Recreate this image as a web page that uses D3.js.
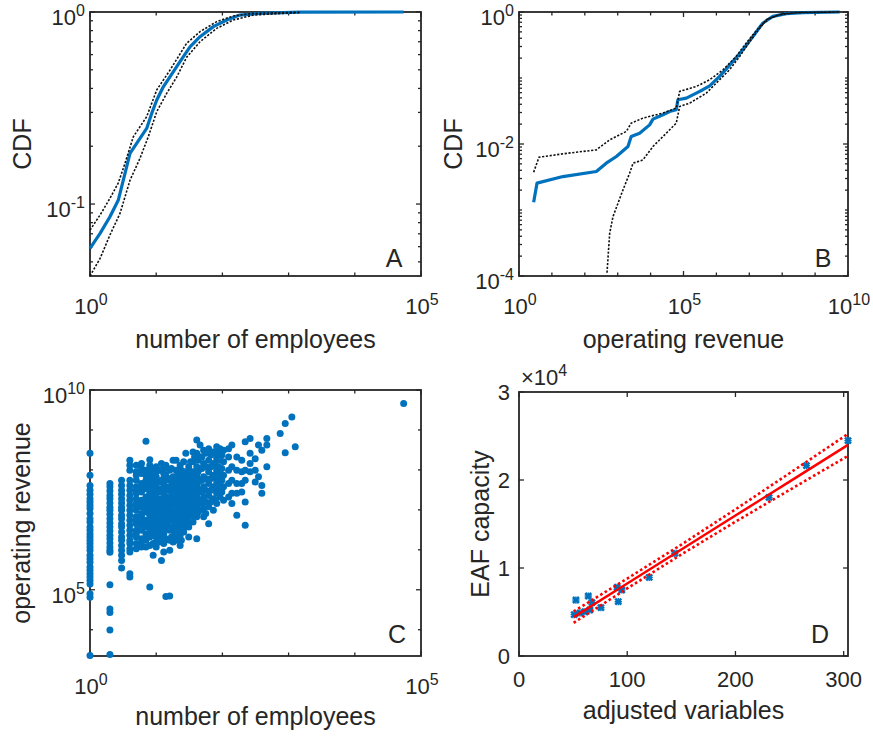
<!DOCTYPE html>
<html><head><meta charset="utf-8">
<script src="https://cdn.jsdelivr.net/npm/d3@7"></script>
<style>
body{margin:0;background:#fff}
svg{display:block}
text{font-family:"Liberation Sans",Arial,Helvetica,sans-serif;fill:#262626}
</style>
</head><body>
<svg id="chart" width="873" height="740"></svg>
<script>
// ---------------- DATA ----------------
// Panel A: CDF of number of employees
const aBlueX = [1.0, 1.42, 2.0, 2.68, 3.38, 4.02, 5.69, 7.18, 8.55, 10.2, 12.8, 16.2, 22.9, 32.4, 45.9, 73, 116, 184, 370, 832, 1480, 54700];
const aBlueY = [0.0588, 0.0703, 0.0859, 0.105, 0.1445, 0.1835, 0.2198, 0.2477, 0.2965, 0.348, 0.408, 0.461, 0.551, 0.659, 0.744, 0.839, 0.908, 0.964, 0.984, 0.992, 0.998, 1.0];
const aUpperX = [1.0, 1.42, 2.0, 2.68, 3.38, 4.51, 7.18, 10.2, 16.2, 28.8, 45.9, 82, 146, 293, 1480];
const aUpperY = [0.0732, 0.0877, 0.107, 0.129, 0.163, 0.224, 0.285, 0.393, 0.499, 0.687, 0.790, 0.891, 0.953, 0.984, 0.998];
const aLowerX = [1.0, 1.42, 2.0, 2.84, 4.02, 5.69, 7.6, 10.2, 14.4, 20.3, 28.8, 45.9, 82, 146, 293, 832, 1480];
const aLowerY = [0.0422, 0.0521, 0.069, 0.0894, 0.133, 0.173, 0.2243, 0.303, 0.377, 0.457, 0.581, 0.700, 0.822, 0.908, 0.964, 0.984, 0.992];

// Panel B: CDF of operating revenue
const bBlueX = [2.79, 3.52, 21.7, 224, 448, 912, 2050, 2570, 4640, 9330, 11800, 23800, 37800, 60300, 67600, 122000, 245000, 389000, 625000, 1.25e6, 3.2e6, 6.4e6, 1.3e7, 2.6e7, 5.2e7, 1.34e8, 4.3e8, 5.6e9];
const bBlueY = [0.00131, 0.00255, 0.00321, 0.00383, 0.00512, 0.00646, 0.00917, 0.013, 0.0146, 0.0195, 0.0238, 0.0277, 0.0311, 0.033, 0.0468, 0.0496, 0.059, 0.0664, 0.0762, 0.1057, 0.1786, 0.268, 0.428, 0.681, 0.859, 0.944, 0.98, 1.0];
const bUpperX = [2.79, 4.05, 21.7, 224, 570, 1830, 2570, 5880, 23800, 60300, 76400, 245000, 625000, 1.59e6, 4e6, 8.1e6, 2.1e7, 4.2e7, 1.06e8, 4.3e8, 5.6e9];
const bUpperY = [0.00374, 0.0063, 0.0071, 0.00815, 0.01157, 0.0155, 0.0207, 0.0247, 0.0294, 0.035, 0.0626, 0.0745, 0.094, 0.133, 0.212, 0.339, 0.606, 0.811, 0.944, 0.99, 1.0];
const bLowerX = [473, 570, 720, 1450, 2300, 2930, 5880, 11800, 23800, 60300, 76400, 155000, 493000, 1.25e6, 2.5e6, 5.1e6, 1.03e7, 2.1e7, 3.3e7, 8.4e7, 2.7e8, 5.6e9];
const bLowerY = [0.000112, 0.000443, 0.000794, 0.00202, 0.0036, 0.00512, 0.00575, 0.00917, 0.013, 0.0207, 0.037, 0.0416, 0.059, 0.094, 0.133, 0.212, 0.359, 0.572, 0.765, 0.912, 0.977, 1.0];

// Panel C: operating revenue by number of employees (firms grouped by employee count)
const firmsByEmployees = [
  [1, [2.6e8, 7.4e7, 4.1e7, 3.1e7, 2.45e7, 1.9e7, 1.58e7, 1.3e7, 1.08e7, 8.1e6, 6.0e6, 5.0e6, 3.7e6, 3.1e6, 2.5e6, 2.1e6, 1.73e6, 1.43e6, 1.18e6, 9.7e5, 7.3e5, 6.0e5, 4.9e5, 3.7e5, 3.1e5, 2.5e5, 2.1e5, 1.7e5, 1.4e5, 7.9e4, 6.5e4, 2.25e3]],
  [2, [4.6e7, 3.8e7, 2.95e7, 2.3e7, 1.9e7, 1.48e7, 1.17e7, 9.8e6, 7.8e6, 6.0e6, 4.7e6, 3.7e6, 2.95e6, 2.3e6, 1.9e6, 1.48e6, 1.17e6, 9.8e5, 8.7e5, 1.33e5, 3.3e4, 2.7e4, 9.9e3, 2.4e3]],
  [3, [5.5e7, 4.1e7, 3.1e7, 2.45e7, 1.9e7, 1.48e7, 1.17e7, 9.8e6, 7.3e6, 6.0e6, 4.5e6, 3.7e6, 2.8e6, 2.1e6, 1.73e6, 1.29e6, 9.7e5, 7.3e5, 5.4e5, 3.5e5]],
  [4, [1.75e8, 1.3e8, 9.8e7, 5.5e7, 4.1e7, 3.1e7, 2.3e7, 1.74e7, 1.3e7, 9.8e6, 7.3e6, 5.5e6, 4.1e6, 3.1e6, 2.3e6, 1.73e6, 1.43e6, 1.07e6, 8.8e5, 2.5e5, 2.1e5]],
  [5, [1.3e8, 9.0e7, 7.4e7, 5.5e7, 3.8e7, 3.1e7, 2.6e7, 1.9e7, 1.44e7, 1.19e7, 9.8e6, 6.7e6, 5.5e6, 4.5e6, 3.1e6, 2.5e6, 2.1e6, 1.43e6, 1.07e6]],
  [6, [1.45e8, 1.08e8, 8.1e7, 4.6e7, 3.4e7, 2.8e7, 1.74e7, 1.44e7, 1.19e7, 8.1e6, 6.7e6, 5.0e6, 3.7e6, 3.1e6, 1.9e6, 1.57e6, 1.18e6]],
  [7, [5.2e8, 9.8e7, 7.4e7, 5.5e7, 4.1e7, 3.4e7, 2.1e7, 1.74e7, 1.44e7, 1.08e7, 8.9e6, 5.5e6, 4.5e6, 3.7e6, 2.5e6, 1.73e6, 1.18e6]],
  [8, [1.8e8, 1.3e8, 9.8e7, 6.7e7, 4.6e7, 3.4e7, 2.6e7, 1.9e7, 1.58e7, 1.19e7, 9.8e6, 7.3e6, 6.0e6, 4.5e6, 3.7e6, 2.8e6, 2.1e6, 1.29e6, 1.17e5]],
  [9, [1.08e8, 8.1e7, 5.5e7, 4.1e7, 3.1e7, 2.3e7, 1.74e7, 1.3e7, 9.8e6, 7.3e6, 5.5e6, 4.5e6, 3.4e6, 2.5e6, 1.43e6, 7.3e5]],
  [10, [1.2e8, 9.0e7, 6.7e7, 5.0e7, 3.8e7, 2.8e7, 2.1e7, 1.58e7, 1.19e7, 8.9e6, 6.7e6, 5.0e6, 3.7e6, 2.8e6, 2.1e6, 1.57e6, 1.18e6]],
  [11, [9.8e7, 5.0e7, 2.8e7, 1.58e7, 8.9e6, 5.0e6, 2.8e6, 1.57e6]],
  [12, [1.45e8, 9.8e7, 5.5e7, 3.4e7, 1.9e7, 1.19e7, 6.7e6, 3.7e6, 2.1e6, 5.4e5]],
  [13, [1.08e8, 8.1e7, 6.1e7, 4.6e7, 3.4e7, 2.6e7, 1.9e7, 1.44e7, 1.08e7, 8.1e6, 6.0e6, 4.5e6, 3.4e6, 2.5e6, 1.9e6, 1.43e6, 8.8e5]],
  [14, [1.3e8, 7.4e7, 3.8e7, 2.1e7, 1.19e7, 6.0e6, 3.4e6, 1.9e6, 6.8e4]],
  [15, [6.1e7, 3.1e7, 1.58e7, 8.1e6, 4.1e6]],
  [16, [9.8e7, 5.5e7, 3.1e7, 1.74e7, 9.8e6, 5.5e6, 3.1e6, 1.73e6, 9.7e5, 7.0e4]],
  [17, [1.08e8, 4.1e7, 2.3e7, 1.3e7, 6.7e6, 2.1e6]],
  [18, [1.75e8, 6.7e7, 3.4e7, 1.58e7, 7.3e6, 3.7e6, 1.57e6]],
  [19, [4.6e7, 2.6e7, 1.44e7, 8.1e6, 4.5e6, 2.5e6]],
  [20, [1.75e8, 9.8e7, 5.5e7, 3.1e7, 1.74e7, 9.8e6, 5.5e6, 3.1e6, 1.73e6]],
  [21, [7.4e7, 4.1e7, 2.3e7, 1.3e7, 7.3e6, 4.1e6]],
  [23, [1.3e8, 7.4e7, 4.1e7, 2.3e7, 1.3e7, 7.3e6, 4.1e6, 2.3e6, 1.29e6]],
  [24, [9.8e7, 5.5e7, 3.1e7, 1.74e7, 9.8e6, 5.5e6, 3.1e6, 1.73e6]],
  [26, [1.6e8, 9.0e7, 5.0e7, 2.8e7, 1.58e7, 8.9e6, 5.0e6, 2.8e6]],
  [27, [6.7e7, 3.8e7, 2.1e7, 1.19e7, 6.7e6, 3.7e6]],
  [28, [2.6e8, 5.5e7, 1.44e7, 4.5e6]],
  [29, [9.0e7, 5.0e7, 2.8e7, 1.58e7, 8.9e6, 5.0e6]],
  [31, [1.2e8, 6.7e7, 3.8e7, 2.1e7, 1.19e7, 6.7e6, 3.7e6, 2.1e6]],
  [33, [1.6e8, 9.0e7, 5.0e7, 2.8e7, 1.58e7, 8.9e6]],
  [36, [2.8e8, 1.6e8, 9.0e7, 5.0e7, 2.8e7, 1.58e7, 8.9e6, 5.0e6]],
  [38, [2.1e8, 6.7e7, 3.8e7, 2.1e7, 1.19e7, 6.7e6]],
  [41, [5.6e8, 2.6e8, 1.2e8, 6.7e7, 3.8e7, 2.1e7, 1.19e7, 6.7e6, 1.9e6]],
  [43, [1.75e8, 9.0e7, 5.0e7, 2.8e7, 1.58e7, 8.9e6]],
  [46, [4.2e8, 2.1e8, 1.08e8, 5.5e7, 3.1e7, 1.74e7, 9.8e6]],
  [49, [2.1e8, 1.08e8, 5.5e7, 2.8e7, 1.44e7]],
  [52, [3.1e8, 1.45e8, 6.7e7, 3.8e7, 2.1e7, 1.08e7, 6.7e6]],
  [56, [2.6e8, 1.2e8, 6.1e7, 3.1e7, 1.58e7, 8.1e6]],
  [62, [3.4e8, 1.75e8, 9.0e7, 4.6e7, 2.3e7, 1.19e7, 4.5e6]],
  [67, [2.35e8, 1.2e8, 6.1e7, 3.1e7, 1.58e7]],
  [73, [2.8e8, 1.45e8, 7.4e7, 3.8e7, 1.9e7, 9.8e6]],
  [78, [2.6e8, 1.3e8, 6.7e7, 3.4e7, 1.74e7]],
  [82, [3.8e8, 1.9e8, 9.8e7, 5.0e7, 2.6e7, 1.44e7]],
  [87, [2.6e8, 1.2e8, 6.1e7, 3.1e7]],
  [92, [3.4e8, 1.75e8, 8.1e7, 4.1e7, 2.1e7]],
  [98, [2.35e8, 1.08e8, 5.5e7, 2.8e7]],
  [104, [3.1e8, 1.6e8, 7.4e7, 3.8e7, 1.74e7]],
  [124, [3.4e8, 2.1e8, 9.8e7, 4.6e7, 2.1e7]],
  [139, [4.2e8, 1.2e8, 5.5e7, 2.6e7, 1.44e7]],
  [165, [2.1e8, 9.8e7, 4.6e7, 2.6e7, 7.3e6]],
  [196, [1.75e8, 9.0e7, 4.6e7, 2.8e7]],
  [221, [5.1e8, 9.8e7, 5.5e7, 1.58e7, 4.1e6]],
  [262, [6.1e8, 2.6e8, 1.45e8, 9.0e7]],
  [313, [1.9e8, 9.8e7, 5.0e7]],
  [351, [4.2e8, 6.7e7]],
  [394, [3.1e8, 4.1e7, 2.6e7]],
  [469, [6.1e8, 4.2e8, 1.2e8]],
  [746, [8.2e8]],
  [889, [1.46e9, 2.7e8]],
  [1120, [2.1e9]],
  [1260, [3.8e8]],
  [54700, [4.6e9]]
];

// Panel D: EAF capacity vs adjusted variables
const dX = [51, 52.6, 56.3, 60.9, 64.0, 65.5, 67.4, 75.7, 90.7, 91.7, 95, 120.3, 144, 231, 265.6, 304];
const dY = [4700, 6360, 4890, 5030, 6820, 5230, 6060, 5490, 7810, 6170, 7500, 8940, 11670, 18030, 21630, 24470];
const fitX = [50.5, 100, 150, 200, 250, 304];
const fitY = [4420, 8240, 12100, 15960, 19820, 23990];
const fitUpperY = [5070, 8800, 12660, 16660, 20770, 25240];
const fitLowerY = [3770, 7680, 11540, 15260, 18870, 22740];

// Tick values
const aXMajor = [1, 1e5], aXMinor = [10, 100, 1000, 1e4];
const aYMajor = [0.1, 1], aYMinor = [0.05, 0.06, 0.07, 0.08, 0.09, 0.2, 0.3, 0.4, 0.5, 0.6, 0.7, 0.8, 0.9];
const bXMajor = [1, 1e5, 1e10], bXMinor = [10, 100, 1000, 1e4, 1e6, 1e7, 1e8, 1e9];
const bYMajor = [1e-4, 1e-2, 1];
const bYMinor = [];
[-4, -3, -2, -1].forEach(e => { for (let k = 1; k <= 9; k++) { const v = k * Math.pow(10, e); if (!(k === 1 && (e === -4 || e === -2))) bYMinor.push(v); } });
const cXMajor = [1, 1e5], cXMinor = [10, 100, 1000, 1e4];
const cYMajor = [1e5, 1e10], cYMinor = [1e4, 1e6, 1e7, 1e8, 1e9];
const dXTicks = [0, 100, 200, 300], dYTicks = [0, 10000, 20000, 30000];
const dYTickLabels = ["0", "1", "2", "3"];

// ---------------- DRAW ----------------
const svg = d3.select("#chart");
const BLUE = "#0072BD", DARK = "#262626";
const TICK_FS = 22, SUP_FS = 16, LABEL_FS = 25;

function frame(g, x, y) {
  const [l, r] = x.range(), [b, t] = y.range();
  g.append("rect").attr("x", l).attr("y", t).attr("width", r - l).attr("height", b - t)
    .attr("fill", "none").attr("stroke", DARK).attr("stroke-width", 1.8);
}
function ticks(g, x, y, xMaj, xMin, yMaj, yMin) {
  const [l, r] = x.range(), [b, t] = y.range();
  const segs = [];
  const add = (vals, len) => ({
    x: () => vals.forEach(v => { segs.push([x(v), b, x(v), b - len]); segs.push([x(v), t, x(v), t + len]); }),
    y: () => vals.forEach(v => { segs.push([l, y(v), l + len, y(v)]); segs.push([r, y(v), r - len, y(v)]); })
  });
  add(xMaj, 5).x(); add(xMin, 3.5).x(); add(yMaj, 5).y(); add(yMin, 3).y();
  g.selectAll(null).data(segs).join("line")
    .attr("x1", d => d[0]).attr("y1", d => d[1]).attr("x2", d => d[2]).attr("y2", d => d[3])
    .attr("stroke", DARK).attr("stroke-width", 1.3);
}
function powLabel(g, px, py, exp, anchor) {
  const t = g.append("text").attr("x", px).attr("y", py).attr("text-anchor", anchor)
    .style("font-size", TICK_FS + "px");
  t.append("tspan").text("10");
  t.append("tspan").attr("dy", -9).style("font-size", SUP_FS + "px").text(String(exp));
}
function logTickLabels(g, x, y, xMaj, yMaj) {
  const [l] = x.range(), [b] = y.range();
  xMaj.forEach(v => powLabel(g, x(v) + 1, b + 38, Math.round(Math.log10(v)), "middle"));
  yMaj.forEach(v => powLabel(g, l - 5, y(v) + 13, Math.round(Math.log10(v)), "end"));
}
function axisLabels(g, x, y, xl, yl, xlY, ylX) {
  const [l, r] = x.range(), [b, t] = y.range();
  g.append("text").attr("x", (l + r) / 2).attr("y", xlY).attr("text-anchor", "middle")
    .style("font-size", LABEL_FS + "px").text(xl);
  g.append("text").attr("transform", `translate(${ylX},${(b + t) / 2}) rotate(-90)`)
    .attr("text-anchor", "middle").style("font-size", LABEL_FS + "px").text(yl);
}
function letter(g, px, py, s) {
  g.append("text").attr("x", px).attr("y", py).attr("text-anchor", "middle")
    .style("font-size", "25px").text(s);
}
function cdfLines(g, x, y, bx, by, ux, uy, lx, ly) {
  const line = d3.line().x(d => x(d[0])).y(d => y(d[1]));
  g.append("path").attr("d", line(d3.zip(bx, by))).attr("fill", "none")
    .attr("stroke", BLUE).attr("stroke-width", 3.2).attr("stroke-linejoin", "round");
  [[ux, uy], [lx, ly]].forEach(([X, Y]) => {
    g.append("path").attr("d", line(d3.zip(X, Y))).attr("fill", "none")
      .attr("stroke", "#111").attr("stroke-width", 1.6).attr("stroke-dasharray", "2.2,1.6");
  });
}

// Panel A
{
  const g = svg.append("g");
  const x = d3.scaleLog().domain([1, 1e5]).range([90, 421]);
  const y = d3.scaleLog().domain([0.0422, 1]).range([276, 12]);
  frame(g, x, y);
  ticks(g, x, y, aXMajor, aXMinor, aYMajor, aYMinor);
  cdfLines(g, x, y, aBlueX, aBlueY, aUpperX, aUpperY, aLowerX, aLowerY);
  logTickLabels(g, x, y, aXMajor, aYMajor);
  axisLabels(g, x, y, "number of employees", "CDF", 348, 31);
  letter(g, 394, 267, "A");
}
// Panel B
{
  const g = svg.append("g");
  const x = d3.scaleLog().domain([1, 1e10]).range([519, 848]);
  const y = d3.scaleLog().domain([1e-4, 1]).range([276, 12]);
  frame(g, x, y);
  ticks(g, x, y, bXMajor, bXMinor, bYMajor, bYMinor);
  cdfLines(g, x, y, bBlueX, bBlueY, bUpperX, bUpperY, bLowerX, bLowerY);
  logTickLabels(g, x, y, bXMajor, bYMajor);
  axisLabels(g, x, y, "operating revenue", "CDF", 348, 462);
  letter(g, 823, 267, "B");
}
// Panel C
{
  const g = svg.append("g");
  const x = d3.scaleLog().domain([1, 1e5]).range([90, 421]);
  const y = d3.scaleLog().domain([2200, 1e10]).range([656, 390]);
  frame(g, x, y);
  ticks(g, x, y, cXMajor, cXMinor, cYMajor, cYMinor);
  const pts = firmsByEmployees.flatMap(([e, revs]) => revs.map(r => [e, r]));
  g.selectAll(null).data(pts).join("circle")
    .attr("cx", d => x(d[0])).attr("cy", d => y(d[1])).attr("r", 3.5).attr("fill", BLUE);
  logTickLabels(g, x, y, cXMajor, cYMajor);
  axisLabels(g, x, y, "number of employees", "operating revenue", 725, 30);
  letter(g, 397, 643, "C");
}
// Panel D
{
  const g = svg.append("g");
  const x = d3.scaleLinear().domain([0, 304]).range([519, 848]);
  const y = d3.scaleLinear().domain([0, 30000]).range([656, 392]);
  frame(g, x, y);
  ticks(g, x, y, dXTicks, [], dYTicks, []);
  const pts = d3.zip(dX, dY);
  const mk = g.selectAll(null).data(pts).join("g")
    .attr("transform", d => `translate(${x(d[0])},${y(d[1])})`);
  mk.append("path").attr("d", "M-3,-3L3,3M-3,3L3,-3").attr("stroke", BLUE).attr("stroke-width", 2.6).attr("fill", "none");
  mk.append("path").attr("d", "M0,-3.6L0,3.6M-3.6,0L3.6,0").attr("stroke", BLUE).attr("stroke-width", 1.4).attr("fill", "none");
  const line = d3.line().x(d => x(d[0])).y(d => y(d[1]));
  g.append("path").attr("d", line(d3.zip(fitX, fitY))).attr("fill", "none")
    .attr("stroke", "#FF0000").attr("stroke-width", 2.5);
  [fitUpperY, fitLowerY].forEach(Y => {
    g.append("path").attr("d", line(d3.zip(fitX, Y))).attr("fill", "none")
      .attr("stroke", "#FF0000").attr("stroke-width", 2.6).attr("stroke-dasharray", "2.6,2.6");
  });
  const [l] = x.range(), [b] = y.range();
  dXTicks.forEach(v => g.append("text").attr("x", x(v)).attr("y", b + 31).attr("text-anchor", "middle")
    .style("font-size", TICK_FS + "px").text(String(v)));
  dYTicks.forEach((v, i) => g.append("text").attr("x", l - 9).attr("y", y(v) + 8).attr("text-anchor", "end")
    .style("font-size", TICK_FS + "px").text(dYTickLabels[i]));
  const ex = g.append("text").attr("x", 521).attr("y", 385).style("font-size", TICK_FS + "px");
  ex.append("tspan").text("\u00D710");
  ex.append("tspan").attr("dy", -9).style("font-size", SUP_FS + "px").text("4");
  axisLabels(g, x, y, "adjusted variables", "EAF capacity", 719, 489);
  letter(g, 820, 643, "D");
}
</script>
</body></html>
